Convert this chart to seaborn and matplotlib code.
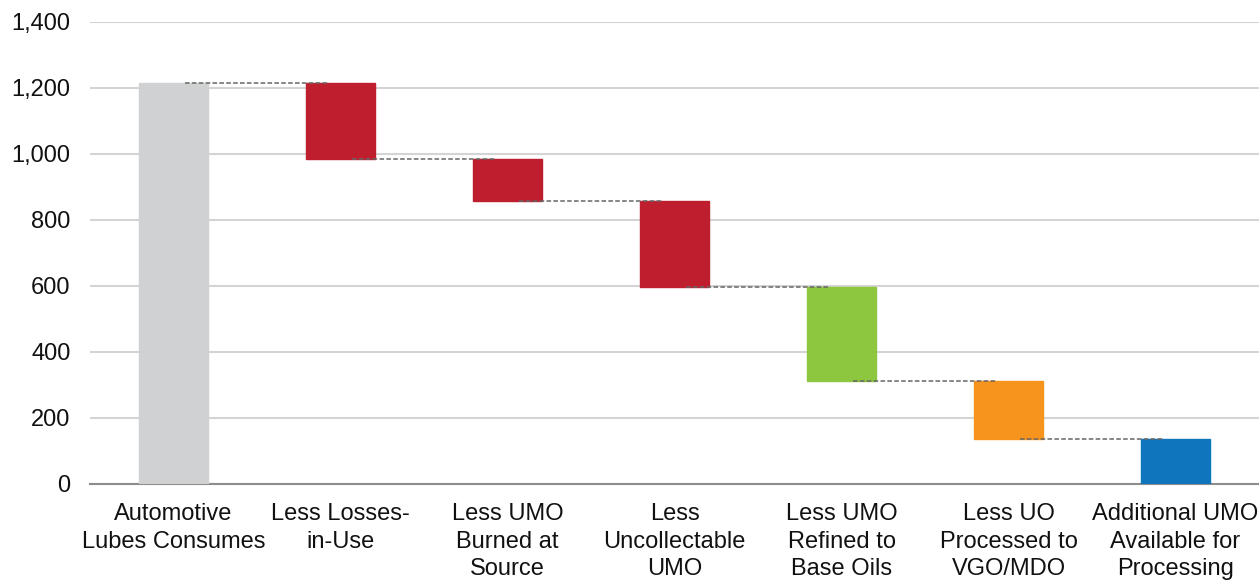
# --- IMPORTS ---
import matplotlib
matplotlib.use("Agg")
import matplotlib.pyplot as plt
import seaborn as sns

# --- DATA ---
categories = [
    "Automotive\nLubes Consumes",
    "Less Losses-\nin-Use",
    "Less UMO\nBurned at\nSource",
    "Less\nUncollectable\nUMO",
    "Less UMO\nRefined to\nBase Oils",
    "Less UO\nProcessed to\nVGO/MDO",
    "Additional UMO\nAvailable for\nProcessing",
]
bar_low = [0, 985, 858, 597, 312, 135, 0]
bar_high = [1215, 1215, 985, 858, 597, 312, 135]
bar_colors = ["#D0D1D3", "#BE1E2D", "#BE1E2D", "#BE1E2D", "#8DC63F", "#F7941D", "#0F75BC"]
y_ticks = [0, 200, 400, 600, 800, 1000, 1200, 1400]

heights = [h - l for h, l in zip(bar_high, bar_low)]

# --- PLOT ---
sns.set_style("white")
plt.rcParams['font.family'] = ['Liberation Sans', 'DejaVu Sans']

fig = plt.figure(figsize=(12.59, 5.82), dpi=100)
ax = fig.add_axes([0.0715, 0.1684, 0.9285, 0.7938])

sns.barplot(x=list(range(len(categories))), y=heights, bottom=bar_low,
            color="#D0D1D3", width=0.41, ax=ax, zorder=3)
for patch, c in zip(ax.patches, bar_colors):
    patch.set_facecolor(c)
    patch.set_edgecolor(c)

# connector lines between the steps
for i in range(len(categories) - 1):
    level = bar_low[i] if i > 0 else bar_high[i]
    ax.plot([i + 0.07, i + 0.93], [level, level], ls=(0, (3, 1.5)),
            color="#666666", lw=1.1, zorder=4)

ax.set_ylim(0, 1400)
ax.set_xlim(-0.5, 6.5)
ax.set_yticks(y_ticks)
ax.set_yticklabels([f"{v:,}" for v in y_ticks], fontsize=17, color="#111111")
ax.yaxis.grid(True, color="#d4d4d4", lw=1.5, zorder=0)
ax.set_axisbelow(True)

ax.set_xticks(range(len(categories)))
ax.set_xticklabels(categories, fontsize=17, linespacing=1.32, va="top", color="#111111")
ax.tick_params(axis='x', length=0, pad=14)
ax.tick_params(axis='y', length=0, pad=14)

for s in ['top', 'right', 'left']:
    ax.spines[s].set_visible(False)
ax.spines['bottom'].set_color("#8c8c8c")
ax.spines['bottom'].set_linewidth(1.5)

fig.savefig("out.png", dpi=100)
plt.close(fig)
